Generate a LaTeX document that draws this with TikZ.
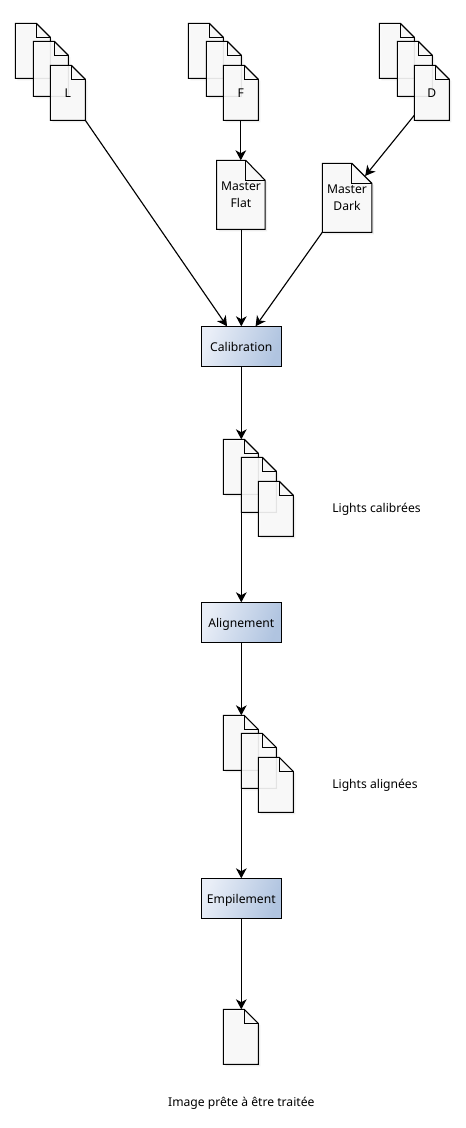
\documentclass[tikz,border=0pt]{standalone}
\usepackage{fontspec}
\setmainfont{Noto Sans}
\usetikzlibrary{arrows.meta,shadows}
\definecolor{pagefill}{HTML}{FAFAFA}
\definecolor{boxlight}{HTML}{E9EEF7}
\definecolor{boxdark}{HTML}{B0C4E0}
\tikzset{
  pagebody/.style={draw=black, line width=0.8pt, fill=pagefill, fill opacity=0.9,
    drop shadow={shadow xshift=1.5pt, shadow yshift=-1.5pt, opacity=0.14}},
  pagefold/.style={draw=black, line width=0.8pt},
  pagenode/.style={anchor=north west, inner sep=0pt, outer sep=0pt, align=center,
    font=\fontsize{9.1pt}{13.2pt}\selectfont, execute at begin node={\vspace*{3pt}}},
  stepbox/.style={draw=black, line width=0.7pt, anchor=north west, minimum width=60pt, minimum height=30pt,
    inner sep=0pt, outer sep=0pt, left color=boxlight, right color=boxdark, shading angle=70,
    text height=8.9pt, text depth=0.5pt, font=\fontsize{9.1pt}{10pt}\selectfont},
  note/.style={inner sep=0pt, font=\fontsize{9.1pt}{10pt}\selectfont},
  link/.style={->, line width=0.85pt}
}
% name, x, y, width, height, fold width, fold height, text
\newcommand{\docpage}[8]{
  \draw[pagebody] (#2,#3) -- ++(#6,0) -- ++(#4-#6,#7) -- ++(0,#5-#7) -- ++(-#4,0) -- cycle;
  \draw[pagefold] (#2+#6,#3) -- ++(0,#7) -- ++(#4-#6,0);
  \node[pagenode, minimum width=#4*0.75pt, minimum height=#5*0.75pt] (#1) at (#2,#3) {#8};
}
\begin{document}
\begin{tikzpicture}[x=0.75pt, y=-0.75pt, >={Stealth[length=7.5pt,width=8pt,inset=2.2pt]}]
\useasboundingbox (0,0) rectangle (465,1128);
% sources
\docpage{lightA}{15.3}{23.3}{35}{55}{21}{14}{}
\docpage{lightB}{33.3}{41.3}{35}{55}{21}{14}{}
\docpage{lightC}{50.3}{65.3}{35}{55}{21}{14}{L}
\docpage{flatA}{188.3}{23.3}{35}{55}{21}{14}{}
\docpage{flatB}{206.3}{41.3}{35}{55}{21}{14}{}
\docpage{flatC}{223.3}{65.3}{35}{55}{21}{14}{F}
\docpage{darkA}{379.3}{23.3}{35}{55}{21}{14}{}
\docpage{darkB}{397.3}{41.3}{35}{55}{21}{14}{}
\docpage{darkC}{414.3}{65.3}{35}{55}{21}{14}{D}
\docpage{mflat}{216.7}{160.3}{48.5}{69}{29}{20}{Master\\Flat}
\docpage{mdark}{322.3}{163.3}{49.5}{69}{29.5}{20}{Master\\Dark}
% steps
\node[stepbox] (calib) at (201.3,326.3) {Calibration};
\node[stepbox] (align) at (201.3,602.3) {Alignement};
\node[stepbox] (stack) at (201.3,878.3) {Empilement};
% intermediate results
\docpage{calA}{223.3}{439.3}{35}{55}{21}{14}{}
\docpage{calB}{241.3}{457.3}{35}{55}{21}{14}{}
\docpage{calC}{258.3}{481.3}{35}{55}{21}{14}{}
\docpage{alnA}{223.3}{715.3}{35}{55}{21}{14}{}
\docpage{alnB}{241.3}{733.3}{35}{55}{21}{14}{}
\docpage{alnC}{258.3}{757.3}{35}{55}{21}{14}{}
\docpage{final}{223.3}{1009.3}{35}{55}{21}{14}{}
\node[note, anchor=west] (calibNote) at (332,509.3) {Lights calibrées};
\node[note, anchor=west] (alignNote) at (332,785.3) {Lights alignées};
\node[note] (finalNote) at (241.3,1103.3) {Image prête à être traitée};
% links
\draw[link] (lightC.south east) -- ([xshift=-10.7pt]calib.north);
\draw[link] (flatC.south) -- (mflat.north -| flatC.south);
\draw[link] (mflat.south -| calib.north) -- (calib.north);
\draw[link] ([yshift=3.75pt]darkC.south west) -- ([xshift=-5pt,yshift=-9.5pt]mdark.north east);
\draw[link] (mdark.south west) -- ([xshift=10.7pt]calib.north);
\draw[link] (calib.south) -- (calA.north -| calib.south);
\draw[link] (calB.south -| align.north) -- (align.north);
\draw[link] (align.south) -- (alnA.north -| align.south);
\draw[link] (alnB.south -| stack.north) -- (stack.north);
\draw[link] (stack.south) -- (final.north -| stack.south);
\end{tikzpicture}
\end{document}
